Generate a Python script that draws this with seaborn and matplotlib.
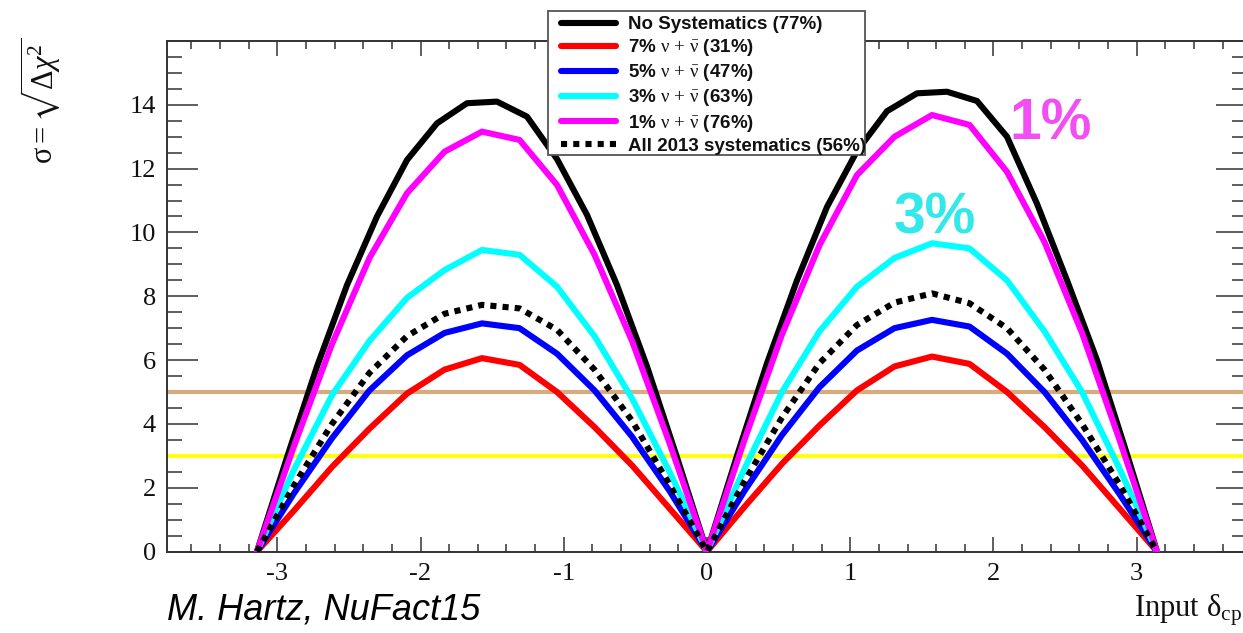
import numpy as np
import pandas as pd
import matplotlib
matplotlib.use("Agg")
import matplotlib.pyplot as plt
import seaborn as sns
from matplotlib.ticker import MultipleLocator, FixedLocator
from matplotlib.font_manager import FontProperties
from matplotlib.patches import Rectangle

# ---- data: sensitivity sigma = sqrt(delta chi^2) versus true delta_CP ----
# no-systematics curve sampled every pi/15, the others every pi/12
k_fine = list(range(-15, 16))
k_coarse = list(range(-12, 13))
delta_fine = np.array(k_fine) * np.pi / 15
delta_coarse = np.array(k_coarse) * np.pi / 12

sig_nosys = [0.0, 2.95, 5.8, 8.35, 10.5, 12.27, 13.42, 14.05, 14.10, 13.63, 12.3,
             10.55, 8.35, 5.8, 2.95, 0.0,
             3.0, 5.9, 8.5, 10.8, 12.55, 13.8, 14.36, 14.41, 14.12, 13.0, 10.9,
             8.5, 6.0, 3.05, 0.0]
sig_7pct = [0.0, 1.3, 2.65, 3.85, 4.95, 5.7, 6.06, 5.85, 5.0, 3.9, 2.7, 1.35, 0.0,
            1.4, 2.75, 3.95, 5.05, 5.8, 6.11, 5.88, 5.0, 3.9, 2.7, 1.35, 0.0]
sig_5pct = [0.0, 1.85, 3.55, 5.05, 6.15, 6.85, 7.15, 7.0, 6.2, 5.05, 3.6, 1.9, 0.0,
            1.9, 3.65, 5.15, 6.3, 7.0, 7.26, 7.05, 6.2, 5.0, 3.5, 1.8, 0.0]
sig_3pct = [0.0, 2.6, 4.9, 6.6, 7.95, 8.82, 9.45, 9.3, 8.3, 6.75, 4.8, 2.5, 0.0,
            2.6, 5.0, 6.9, 8.3, 9.2, 9.66, 9.5, 8.5, 6.9, 5.0, 2.6, 0.0]
sig_1pct = [0.0, 3.35, 6.5, 9.2, 11.23, 12.53, 13.16, 12.9, 11.49, 9.3, 6.6, 3.4, 0.0,
            3.5, 6.8, 9.6, 11.8, 13.0, 13.68, 13.37, 11.9, 9.7, 6.85, 3.5, 0.0]
sig_2013 = [0.0, 2.1, 4.0, 5.6, 6.75, 7.45, 7.73, 7.62, 6.95, 5.7, 4.1, 2.1, 0.0,
            2.2, 4.2, 5.9, 7.1, 7.8, 8.09, 7.78, 7.0, 5.7, 4.0, 2.1, 0.0]

nu = r"$\mathrm{\nu\,+\,\bar{\nu}}$"
labels = ["No Systematics (77%)",
          "7% " + nu + " (31%)",
          "5% " + nu + " (47%)",
          "3% " + nu + " (63%)",
          "1% " + nu + " (76%)",
          "All 2013 systematics (56%)"]

sigma_levels = [5, 3]

# ---- style ----
sns.set_theme(style="ticks")
plt.rcParams["font.family"] = ["Liberation Serif", "DejaVu Serif"]
plt.rcParams["mathtext.fontset"] = "custom"
plt.rcParams["mathtext.rm"] = "Liberation Serif"
plt.rcParams["mathtext.it"] = "Liberation Serif:italic"
plt.rcParams["mathtext.bf"] = "Liberation Serif:bold"
plt.rcParams["mathtext.fallback"] = "stix"
plt.rcParams["axes.unicode_minus"] = False

fig = plt.figure(figsize=(12.43, 6.33), dpi=100)
W, H = 1243, 633
ax = fig.add_axes([167 / W, 1 - 551.5 / H, 1080 / W, 510.5 / H])

# reference significance lines
ax.axhline(sigma_levels[0], color="#d6ab7e", lw=3.0, zorder=1.2)
ax.axhline(sigma_levels[1], color="#ffff14", lw=3.0, zorder=1.2)

lw = 4.4
df_fine = pd.DataFrame({"delta": delta_fine, "sigma": sig_nosys})
sns.lineplot(data=df_fine, x="delta", y="sigma", ax=ax, color="black",
             lw=lw, label=labels[0], zorder=3)
series = [(sig_7pct, "#ff0000", labels[1]),
          (sig_5pct, "#0000ff", labels[2]),
          (sig_3pct, "#00ffff", labels[3]),
          (sig_1pct, "#ff00ff", labels[4])]
for vals, col, lab in series:
    d = pd.DataFrame({"delta": delta_coarse, "sigma": vals})
    sns.lineplot(data=d, x="delta", y="sigma", ax=ax, color=col, lw=lw,
                 label=lab, zorder=3)
d = pd.DataFrame({"delta": delta_coarse, "sigma": sig_2013})
sns.lineplot(data=d, x="delta", y="sigma", ax=ax, color="black", lw=lw,
             linestyle=(0, (1, 1)), label=labels[5], zorder=4)

# ---- axes ----
ax.set_xlim(-1.2 * np.pi, 1.2 * np.pi)
ax.set_ylim(0, 16)
ax.set_xlabel("")
ax.set_ylabel("")
ax.xaxis.set_major_locator(FixedLocator([-3, -2, -1, 0, 1, 2, 3]))
ax.xaxis.set_minor_locator(MultipleLocator(0.2))
ax.yaxis.set_major_locator(FixedLocator([0, 2, 4, 6, 8, 10, 12, 14, 16]))
ax.yaxis.set_minor_locator(MultipleLocator(0.5))
ax.set_yticklabels(["0", "2", "4", "6", "8", "10", "12", "14", ""])
ax.tick_params(which="both", direction="in", top=True, right=True,
               color="#333333", width=1.1, labelsize=19, labelcolor="#111111")
ax.tick_params(axis="x", which="major", length=11, pad=8)
ax.tick_params(axis="x", which="minor", length=5.5)
ax.tick_params(axis="y", which="major", length=22, pad=8)
ax.tick_params(axis="y", which="minor", length=11)
for s in ax.spines.values():
    s.set_color("#333333")
    s.set_linewidth(1.4)

# ---- legend: white box drawn separately, entries placed inside ----
box = Rectangle((548 / W, 1 - 155 / H), (865 - 548) / W, (155 - 11) / H,
                transform=fig.transFigure, facecolor="white",
                edgecolor="#555555", lw=1.3, zorder=9, clip_on=False)
ax.add_patch(box)
handles, labs = ax.get_legend_handles_labels()
leg = ax.legend(handles, labs, loc="upper left",
                bbox_to_anchor=(561 / W, 1 - 16 / H),
                bbox_transform=fig.transFigure, borderaxespad=0,
                frameon=False, borderpad=0,
                prop=FontProperties(family="Liberation Sans", weight="bold",
                                    size=13.5),
                handlelength=2.95, handletextpad=0.6, labelspacing=0.22)
leg.set_zorder(10)
for t in leg.get_texts():
    t.set_color("#111111")

# ---- titles and notes ----
fig.text(40 / W, 1 - 38 / H, r"$\mathrm{\sigma} = \sqrt{\Delta\chi^2}$",
         rotation=90, ha="center", va="top", fontsize=22, color="#111111")
fig.text(1 - 1 / W, 1 - 617 / H, r"Input $\mathregular{\delta_{cp}}$",
         ha="right", va="baseline", fontsize=22, color="#111111")
fig.text(167 / W, 1 - 620 / H, "M. Hartz, NuFact15", ha="left", va="baseline",
         fontsize=26, style="italic", family="Liberation Sans", color="black")

ax.text(2.11, 12.9, "1%", ha="left", va="baseline", fontsize=41,
        fontweight="bold", family="Liberation Sans", color="#f24ef2", zorder=5)
ax.text(1.30, 9.98, "3%", ha="left", va="baseline", fontsize=41,
        fontweight="bold", family="Liberation Sans", color="#33e8e8", zorder=5)

fig.savefig("out.png", dpi=100)
